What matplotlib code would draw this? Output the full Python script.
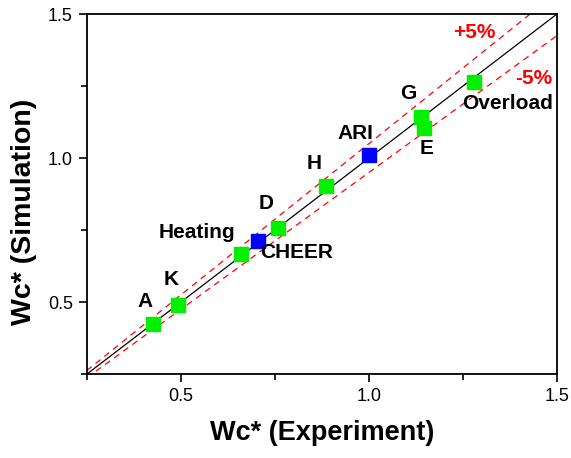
import matplotlib.pyplot as plt
from matplotlib.ticker import MultipleLocator
import numpy as np

plt.rcParams['font.family'] = ['Liberation Sans', 'DejaVu Sans']

# Wc* experiment vs simulation
names = ['A', 'K', 'Heating', 'CHEER', 'D', 'H', 'ARI', 'G', 'E', 'Overload']
wc_exp = [0.425, 0.492, 0.660, 0.705, 0.758, 0.886, 1.000, 1.138, 1.146, 1.279]
wc_sim = [0.424, 0.490, 0.667, 0.712, 0.757, 0.903, 1.010, 1.142, 1.106, 1.264]
colors = ['#00f000', '#00f000', '#00f000', '#0000ff', '#00f000',
          '#00f000', '#0000ff', '#00f000', '#00f000', '#00f000']
# where each name goes
label_x = [0.404, 0.473, 0.542, 0.809, 0.728, 0.856, 0.965, 1.106, 1.153, 1.369]
label_y = [0.501, 0.580, 0.741, 0.671, 0.844, 0.983, 1.087, 1.226, 1.035, 1.190]

fig = plt.figure(figsize=(5.71, 4.58), dpi=100)
ax = fig.add_axes([0.152, 0.183, 0.823, 0.786])

xx = np.array([0.25, 1.5])
ax.plot(xx, xx, color='black', lw=0.9, zorder=1)
ax.plot(xx, 1.05 * xx, color='red', lw=0.9, ls=(0, (5, 4)), zorder=1)
ax.plot(xx, 0.95 * xx, color='red', lw=0.9, ls=(0, (5, 4)), zorder=1)

for x, y, c in zip(wc_exp, wc_sim, colors):
    ax.plot(x, y, marker='s', ms=9.5, color=c, mec=c, ls='none', zorder=3)

for n, x, y in zip(names, label_x, label_y):
    ax.text(x, y, n, ha='center', va='center', fontsize=15, fontweight='bold')

ax.text(1.282, 1.4375, '+5%', color='red', ha='center', va='center',
        fontsize=15, fontweight='bold')
ax.text(1.439, 1.278, '-5%', color='red', ha='center', va='center',
        fontsize=15, fontweight='bold')

ax.set_xlim(0.25, 1.5)
ax.set_ylim(0.25, 1.5)
ax.xaxis.set_minor_locator(MultipleLocator(0.25))
ax.yaxis.set_minor_locator(MultipleLocator(0.25))
ax.set_xticks([0.5, 1.0, 1.5])
ax.set_yticks([0.5, 1.0, 1.5])
ax.set_xticklabels(['0.5', '1.0', '1.5'])
ax.set_yticklabels(['0.5', '1.0', '1.5'])
ax.tick_params(which='major', direction='out', length=6, width=1.2, labelsize=13, pad=4)
ax.tick_params(which='minor', direction='out', length=4, width=1.2)
for s in ax.spines.values():
    s.set_linewidth(1.3)

ax.set_xlabel('Wc* (Experiment)', fontsize=19.5, fontweight='bold', labelpad=11)
ax.set_ylabel('Wc* (Simulation)', fontsize=20.5, fontweight='bold')
ax.yaxis.set_label_coords(-0.107, 0.45)

fig.savefig('out.png', dpi=100)
